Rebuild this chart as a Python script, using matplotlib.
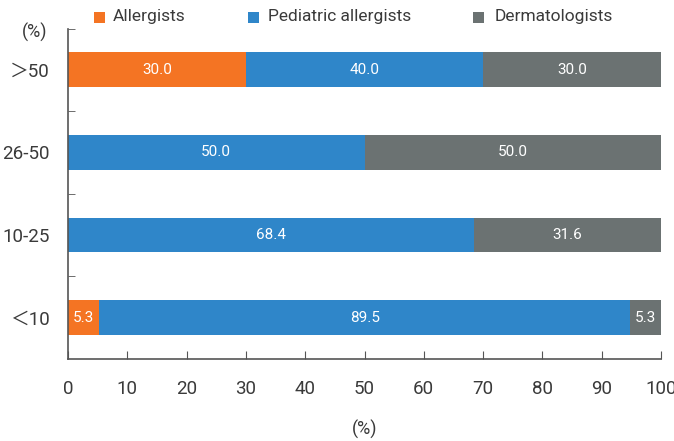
import matplotlib
matplotlib.use("Agg")
import matplotlib.pyplot as plt
from matplotlib.patches import Rectangle
import numpy as np

categories = ["＜10", "10-25", "26-50", "＞50"]
allergists = [5.3, 0.0, 0.0, 30.0]
pediatric = [89.5, 68.4, 50.0, 40.0]
dermatologists = [5.3, 31.6, 50.0, 30.0]
series_names = ["Allergists", "Pediatric allergists", "Dermatologists"]
colors = ["#F47423", "#2F86C9", "#6B7272"]
xticks = list(range(0, 101, 10))

plt.rcParams['font.family'] = ["Roboto", "Noto Sans CJK SC", "DejaVu Sans"]

W, H = 674, 441
fig = plt.figure(figsize=(W/100, H/100), dpi=100)
ax = fig.add_axes([68/W, (H-359)/H, (661-68)/W, (359-28.5)/H])

txt = '#3a3a3a'
y = np.arange(len(categories))
h = 0.42
left = np.zeros(len(categories))
for vals, name, c in zip([allergists, pediatric, dermatologists], series_names, colors):
    vals = np.array(vals)
    ax.barh(y, vals, left=left, height=h, color=c, label=name, edgecolor='none')
    for yi, l, v in zip(y, left, vals):
        if v > 0:
            ax.text(l + v/2, yi, f"{v:.1f}", ha='center', va='center', color='white', fontsize=11)
    left = left + vals

ax.set_xlim(0, 100)
ax.set_ylim(-0.5, 3.5)
ax.set_xticks(xticks)
ax.set_xticklabels([str(t) for t in xticks], fontsize=13.5, color=txt)
ax.set_yticks(y)
ax.set_yticklabels(categories, fontsize=13.5, color=txt)
ax.set_yticks([0.5, 1.5, 2.5, 3.5], minor=True)
ax.tick_params(axis='y', which='major', length=0, pad=13)
ax.tick_params(axis='y', which='minor', direction='in', length=5, color='#555555')
ax.tick_params(axis='x', direction='in', length=6, color='#555555', pad=15)
for s in ['top', 'right']:
    ax.spines[s].set_visible(False)
for s in ['left', 'bottom']:
    ax.spines[s].set_color('#555555')
    ax.spines[s].set_linewidth(1.2)

ax.set_xlabel("(%)", fontsize=13, color=txt, labelpad=16)
fig.text(35/W, 1-32/H, "(%)", fontsize=13, color=txt, ha='center', va='center')

# legend
sq_x = [94, 248, 473]
tx_x = [113, 268, 495]
ly = 17
for sx, tx, name, c in zip(sq_x, tx_x, series_names, colors):
    fig.patches.append(Rectangle((sx/W, 1-(ly+5.5)/H), 11/W, 11/H, transform=fig.transFigure,
                                 facecolor=c, edgecolor='none'))
    fig.text(tx/W, 1-ly/H, name, fontsize=12.5, color=txt, ha='left', va='center')

fig.savefig("out.png", dpi=100)
